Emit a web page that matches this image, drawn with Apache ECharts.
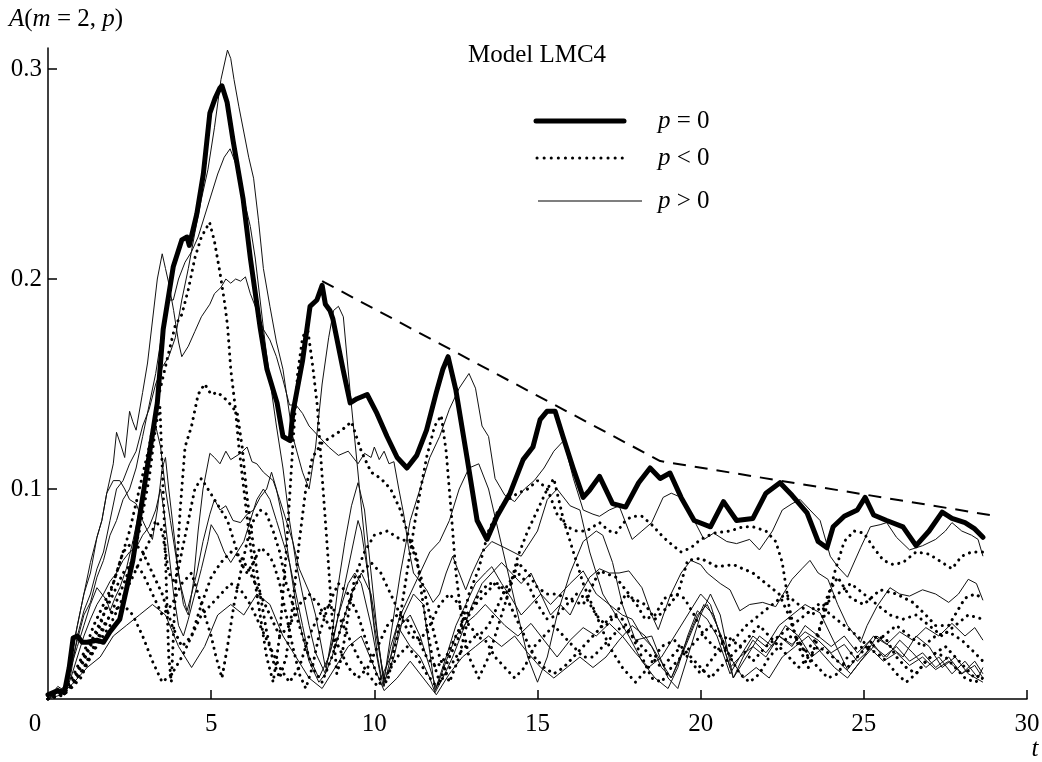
<!DOCTYPE html>
<html>
<head>
<meta charset="utf-8">
<script src="https://cdn.jsdelivr.net/npm/echarts@6/dist/echarts.min.js"></script>
<style>html,body{margin:0;padding:0;background:#fff}#c{width:1042px;height:762px}</style>
</head>
<body>
<div id="c"></div>
<script>
// ---- data (t, A) ----
const xTicks = [5, 10, 15, 20, 25, 30];
const xLabels = [0, 5, 10, 15, 20, 25, 30];
const yTicks = [0.1, 0.2, 0.3];

const envelope = [[8.4,0.199],[18.76,0.1133],[28.87,0.0876]];

const thickP0 = [[0,0.002],[0.3,0.004],[0.5,0.003],[0.65,0.015],[0.77,0.029],[0.9,0.03],[1.05,0.027],[1.2,0.027],[1.5,0.028],[1.7,0.027],[1.9,0.032],[2.2,0.038],[2.6,0.066],[3.03,0.109],[3.35,0.141],[3.53,0.176],[3.84,0.206],[4.1,0.2186],[4.26,0.22],[4.33,0.216],[4.56,0.231],[4.76,0.25],[4.96,0.279],[5.12,0.286],[5.27,0.291],[5.33,0.292],[5.49,0.284],[5.67,0.266],[5.98,0.238],[6.2,0.21],[6.5,0.177],[6.71,0.157],[7.02,0.141],[7.2,0.125],[7.42,0.123],[7.5,0.136],[7.8,0.161],[8.03,0.187],[8.24,0.19],[8.4,0.197],[8.5,0.188],[8.64,0.185],[8.73,0.181],[9.04,0.157],[9.26,0.141],[9.47,0.143],[9.78,0.145],[10.08,0.136],[10.39,0.125],[10.7,0.115],[11.0,0.11],[11.3,0.116],[11.6,0.128],[11.9,0.146],[12.1,0.157],[12.26,0.163],[12.5,0.147],[12.85,0.114],[13.15,0.085],[13.45,0.076],[13.76,0.087],[14.16,0.098],[14.56,0.114],[14.86,0.12],[15.08,0.133],[15.29,0.137],[15.54,0.137],[15.78,0.125],[16.09,0.11],[16.4,0.096],[16.6,0.0995],[16.9,0.106],[17.3,0.093],[17.7,0.0914],[18.1,0.103],[18.45,0.11],[18.76,0.105],[19.06,0.1076],[19.4,0.096],[19.8,0.085],[20.3,0.082],[20.7,0.094],[21.1,0.085],[21.6,0.086],[22.0,0.098],[22.43,0.103],[22.8,0.097],[23.26,0.0886],[23.6,0.075],[23.87,0.072],[24.06,0.082],[24.4,0.087],[24.8,0.09],[25.04,0.096],[25.3,0.0876],[25.7,0.085],[26.2,0.082],[26.6,0.073],[27.0,0.08],[27.4,0.089],[27.7,0.086],[28.1,0.084],[28.4,0.081],[28.65,0.077]];

const thin1 = [[0,0],[0.3,0.004],[0.5,0.002],[0.7,0.012],[0.9,0.03],[1.1,0.042],[1.3,0.05],[1.5,0.062],[1.7,0.07],[1.9,0.085],[2.1,0.1],[2.3,0.104],[2.5,0.112],[2.7,0.118],[2.9,0.13],[3.1,0.138],[3.3,0.15],[3.5,0.158],[3.7,0.163],[3.9,0.172],[4.1,0.19],[4.3,0.205],[4.5,0.222],[4.7,0.238],[4.9,0.252],[5.1,0.272],[5.3,0.295],[5.5,0.309],[5.6,0.305],[5.7,0.295],[5.85,0.282],[6.0,0.27],[6.15,0.258],[6.3,0.248],[6.45,0.228],[6.6,0.205],[6.8,0.187],[7.0,0.17],[7.2,0.157],[7.5,0.125],[7.8,0.108],[8.0,0.1],[8.2,0.12],[8.4,0.15],[8.6,0.172],[8.75,0.185],[8.9,0.187],[9.05,0.182],[9.26,0.146],[9.56,0.098],[9.87,0.05],[10.1,0.02],[10.27,0.006],[10.5,0.03],[10.8,0.06],[11.1,0.085],[11.4,0.1],[11.7,0.115],[12.0,0.125],[12.3,0.138],[12.6,0.148],[12.9,0.155],[13.1,0.148],[13.3,0.13],[13.5,0.125],[13.7,0.105],[14.0,0.097],[14.3,0.094],[14.6,0.1],[14.9,0.104],[15.2,0.11],[15.5,0.118],[15.8,0.123],[16.1,0.105],[16.4,0.09],[16.7,0.088],[16.9,0.087],[17.2,0.09],[17.5,0.092],[17.9,0.076],[18.2,0.08],[18.5,0.084],[18.85,0.096],[19.1,0.098],[19.4,0.096],[19.8,0.085],[20.1,0.076],[20.4,0.079],[20.8,0.075],[21.1,0.074],[21.5,0.076],[21.8,0.071],[22.2,0.08],[22.5,0.09],[22.8,0.093],[23.05,0.095],[23.35,0.09],[23.66,0.085],[23.97,0.068],[24.2,0.063],[24.5,0.058],[24.9,0.072],[25.2,0.082],[25.5,0.083],[25.7,0.084],[26.0,0.077],[26.4,0.071],[26.8,0.073],[27.2,0.076],[27.5,0.08],[27.7,0.084],[28.0,0.08],[28.3,0.078],[28.5,0.076],[28.65,0.068]];

const thin2 = [[0,0],[0.3,0.003],[0.5,0.006],[0.7,0.016],[0.9,0.028],[1.1,0.04],[1.3,0.046],[1.5,0.058],[1.7,0.066],[1.9,0.078],[2.1,0.085],[2.3,0.095],[2.5,0.1],[2.7,0.11],[2.9,0.125],[3.1,0.14],[3.3,0.155],[3.5,0.175],[3.7,0.19],[3.84,0.19],[4.0,0.2],[4.2,0.208],[4.4,0.213],[4.6,0.22],[4.8,0.23],[5.0,0.24],[5.2,0.25],[5.4,0.258],[5.58,0.262],[5.75,0.255],[5.9,0.245],[6.05,0.235],[6.2,0.225],[6.35,0.21],[6.5,0.19],[6.65,0.17],[6.8,0.152],[7.0,0.13],[7.2,0.11],[7.4,0.085],[7.6,0.065],[7.8,0.05],[8.0,0.035],[8.2,0.022],[8.5,0.012],[8.7,0.03],[8.9,0.055],[9.1,0.075],[9.3,0.092],[9.5,0.103],[9.7,0.09],[9.9,0.06],[10.1,0.03],[10.3,0.006],[10.5,0.02],[10.7,0.035],[10.9,0.03],[11.1,0.025],[11.4,0.02],[11.7,0.01],[11.86,0.003],[12.1,0.01],[12.4,0.02],[12.7,0.032],[13.0,0.045],[13.3,0.055],[13.6,0.06],[13.9,0.065],[14.2,0.06],[14.5,0.055],[14.8,0.06],[15.1,0.05],[15.4,0.04],[15.7,0.045],[16.0,0.04],[16.3,0.05],[16.6,0.058],[16.9,0.062],[17.2,0.06],[17.5,0.06],[17.8,0.061],[18.2,0.053],[18.5,0.04],[18.7,0.033],[19.06,0.049],[19.4,0.06],[19.7,0.066],[20.0,0.064],[20.2,0.06],[20.6,0.055],[20.9,0.052],[21.2,0.042],[21.5,0.045],[21.9,0.046],[22.3,0.044],[22.8,0.057],[23.1,0.062],[23.35,0.066],[23.6,0.06],[23.9,0.057],[24.2,0.045],[24.5,0.035],[24.9,0.027],[25.1,0.035],[25.4,0.044],[25.8,0.053],[26.1,0.05],[26.4,0.049],[26.8,0.052],[27.2,0.05],[27.6,0.046],[27.9,0.05],[28.2,0.057],[28.45,0.055],[28.65,0.047]];

const thin3 = [[0,0],[0.3,0.005],[0.5,0.003],[0.7,0.018],[0.9,0.035],[1.1,0.05],[1.3,0.065],[1.5,0.077],[1.65,0.085],[1.8,0.098],[2.0,0.112],[2.1,0.127],[2.25,0.12],[2.35,0.115],[2.5,0.137],[2.6,0.132],[2.7,0.128],[2.9,0.146],[3.05,0.16],[3.2,0.18],[3.35,0.2],[3.5,0.212],[3.6,0.205],[3.7,0.198],[3.85,0.185],[4.0,0.17],[4.1,0.163],[4.3,0.168],[4.5,0.175],[4.7,0.182],[4.96,0.188],[5.1,0.193],[5.3,0.196],[5.45,0.2],[5.6,0.198],[5.75,0.2],[5.9,0.199],[6.05,0.201],[6.2,0.193],[6.4,0.185],[6.6,0.176],[6.8,0.171],[7.0,0.163],[7.2,0.152],[7.4,0.14],[7.6,0.14],[7.8,0.136],[8.0,0.13],[8.3,0.125],[8.6,0.12],[8.9,0.116],[9.2,0.118],[9.5,0.112],[9.7,0.117],[9.9,0.115],[10.0,0.12],[10.15,0.114],[10.3,0.118],[10.45,0.112],[10.6,0.113],[10.75,0.1],[10.9,0.088],[11.05,0.072],[11.2,0.06],[11.4,0.056],[11.6,0.052],[11.8,0.046],[12.0,0.05],[12.2,0.06],[12.4,0.068],[12.6,0.06],[12.8,0.052],[13.0,0.06],[13.3,0.07],[13.6,0.075],[14.0,0.072],[14.5,0.068],[15.0,0.08],[15.3,0.095],[15.6,0.1],[16.0,0.092],[16.3,0.09],[16.6,0.07],[17.0,0.05],[17.4,0.04],[17.8,0.03],[18.2,0.018],[18.6,0.01],[19.0,0.005],[19.3,0.015],[19.6,0.03],[19.9,0.042],[20.2,0.038],[20.5,0.03],[20.9,0.012],[21.2,0.02],[21.6,0.03],[22.0,0.025],[22.4,0.035],[22.8,0.04],[23.2,0.045],[23.66,0.041],[24.0,0.03],[24.5,0.014],[24.9,0.022],[25.3,0.03],[25.7,0.026],[26.1,0.032],[26.5,0.028],[26.9,0.034],[27.3,0.03],[27.7,0.036],[28.1,0.03],[28.4,0.034],[28.65,0.028]];

const thin4 = [[0,0],[0.3,0.006],[0.5,0.004],[0.7,0.015],[0.9,0.025],[1.1,0.035],[1.3,0.045],[1.5,0.053],[1.65,0.05],[1.8,0.047],[1.9,0.042],[2.05,0.048],[2.2,0.053],[2.4,0.062],[2.6,0.075],[2.8,0.09],[3.0,0.105],[3.15,0.118],[3.3,0.13],[3.45,0.12],[3.6,0.1],[3.75,0.085],[3.9,0.07],[4.05,0.055],[4.26,0.042],[4.4,0.05],[4.56,0.06],[4.75,0.075],[4.96,0.088],[5.1,0.095],[5.27,0.09],[5.45,0.092],[5.67,0.085],[5.9,0.084],[6.1,0.088],[6.3,0.09],[6.5,0.096],[6.7,0.1],[6.85,0.108],[7.0,0.1],[7.2,0.085],[7.4,0.065],[7.6,0.045],[7.8,0.03],[8.0,0.018],[8.3,0.008],[8.5,0.012],[8.7,0.02],[9.0,0.035],[9.3,0.05],[9.6,0.06],[9.9,0.05],[10.1,0.03],[10.3,0.008],[10.6,0.02],[10.9,0.04],[11.2,0.05],[11.5,0.045],[11.86,0.004],[12.2,0.02],[12.5,0.035],[12.8,0.045],[13.1,0.055],[13.4,0.06],[13.6,0.063],[13.9,0.055],[14.2,0.048],[14.5,0.04],[14.8,0.045],[15.1,0.05],[15.4,0.045],[15.7,0.05],[16.0,0.055],[16.4,0.061],[16.8,0.05],[17.2,0.045],[17.6,0.04],[17.9,0.038],[18.2,0.03],[18.5,0.025],[18.8,0.015],[19.1,0.01],[19.4,0.02],[19.8,0.035],[20.1,0.045],[20.4,0.04],[20.7,0.025],[21.0,0.01],[21.3,0.02],[21.6,0.028],[22.0,0.022],[22.4,0.03],[22.8,0.026],[23.2,0.032],[23.6,0.028],[24.0,0.022],[24.4,0.026],[24.8,0.018],[25.2,0.024],[25.6,0.018],[26.0,0.022],[26.4,0.016],[26.8,0.02],[27.2,0.014],[27.6,0.018],[28.0,0.012],[28.4,0.016],[28.65,0.01]];

const thin5 = [[0,0],[0.3,0.003],[0.5,0.006],[0.7,0.02],[0.9,0.035],[1.1,0.05],[1.3,0.06],[1.5,0.077],[1.65,0.085],[1.8,0.098],[2.0,0.104],[2.2,0.104],[2.35,0.1],[2.5,0.095],[2.7,0.093],[2.9,0.085],[3.05,0.08],[3.2,0.076],[3.35,0.09],[3.5,0.11],[3.6,0.115],[3.7,0.1],[3.85,0.08],[4.0,0.06],[4.15,0.045],[4.3,0.04],[4.45,0.055],[4.6,0.08],[4.75,0.1],[4.96,0.117],[5.1,0.115],[5.27,0.112],[5.45,0.118],[5.6,0.114],[5.9,0.117],[6.1,0.12],[6.25,0.113],[6.4,0.112],[6.6,0.108],[6.9,0.104],[7.1,0.095],[7.3,0.085],[7.5,0.075],[7.7,0.062],[8.03,0.05],[8.2,0.04],[8.5,0.015],[8.7,0.025],[8.9,0.04],[9.1,0.055],[9.3,0.07],[9.5,0.085],[9.6,0.08],[9.8,0.06],[10.0,0.035],[10.3,0.01],[10.5,0.025],[10.8,0.04],[11.1,0.05],[11.4,0.06],[11.7,0.07],[12.0,0.075],[12.3,0.085],[12.6,0.1],[12.9,0.11],[13.2,0.112],[13.5,0.1],[13.8,0.08],[14.1,0.06],[14.4,0.04],[14.7,0.02],[15.0,0.008],[15.3,0.02],[15.6,0.04],[16.0,0.06],[16.4,0.075],[16.8,0.08],[17.0,0.078],[17.3,0.065],[17.6,0.045],[18.0,0.028],[18.5,0.03],[19.0,0.01],[19.3,0.005],[19.6,0.02],[20.0,0.04],[20.3,0.05],[20.6,0.04],[21.0,0.01],[21.4,0.02],[21.8,0.03],[22.2,0.025],[22.6,0.035],[23.0,0.03],[23.4,0.02],[23.8,0.025],[24.2,0.018],[24.6,0.012],[25.0,0.02],[25.4,0.03],[25.8,0.025],[26.2,0.02],[26.6,0.03],[27.0,0.025],[27.4,0.015],[27.8,0.02],[28.2,0.012],[28.65,0.008]];

const thin6 = [[0,0],[0.3,0.004],[0.5,0.002],[0.7,0.01],[0.9,0.02],[1.1,0.03],[1.3,0.038],[1.5,0.045],[1.7,0.05],[1.9,0.056],[2.1,0.06],[2.3,0.066],[2.5,0.07],[2.7,0.072],[2.9,0.078],[3.1,0.082],[3.3,0.09],[3.45,0.1],[3.55,0.09],[3.7,0.07],[3.85,0.05],[4.0,0.035],[4.15,0.03],[4.3,0.038],[4.5,0.05],[4.7,0.062],[4.9,0.075],[5.0,0.083],[5.2,0.078],[5.4,0.07],[5.6,0.065],[5.8,0.07],[6.0,0.075],[6.2,0.085],[6.4,0.095],[6.6,0.1],[6.8,0.095],[7.0,0.085],[7.2,0.075],[7.4,0.065],[7.6,0.05],[7.8,0.035],[8.0,0.02],[8.3,0.01],[8.6,0.02],[8.9,0.04],[9.2,0.055],[9.4,0.06],[9.6,0.055],[9.9,0.035],[10.2,0.01],[10.5,0.02],[10.8,0.035],[11.1,0.04],[11.4,0.03],[11.7,0.015],[11.9,0.005],[12.2,0.018],[12.5,0.03],[12.8,0.036],[13.1,0.04],[13.4,0.045],[13.7,0.04],[14.0,0.035],[14.4,0.03],[14.8,0.036],[15.2,0.028],[15.6,0.02],[16.0,0.028],[16.4,0.034],[16.8,0.03],[17.2,0.036],[17.6,0.03],[18.0,0.022],[18.4,0.015],[18.8,0.02],[19.2,0.03],[19.6,0.04],[20.0,0.05],[20.3,0.045],[20.6,0.03],[20.9,0.015],[21.2,0.02],[21.6,0.025],[22.0,0.02],[22.4,0.03],[22.8,0.025],[23.2,0.035],[23.6,0.03],[24.0,0.025],[24.4,0.03],[24.8,0.022],[25.2,0.028],[25.6,0.02],[26.0,0.025],[26.4,0.018],[26.8,0.022],[27.2,0.015],[27.6,0.02],[28.0,0.012],[28.4,0.018],[28.65,0.012]];

const thin7 = [[0,0],[0.4,0.002],[0.8,0.008],[1.2,0.015],[1.6,0.02],[2.0,0.03],[2.4,0.035],[2.8,0.04],[3.2,0.045],[3.6,0.04],[4.0,0.025],[4.4,0.015],[4.8,0.025],[5.2,0.04],[5.6,0.045],[6.0,0.04],[6.4,0.05],[6.8,0.045],[7.2,0.03],[7.6,0.02],[8.0,0.01],[8.4,0.005],[8.8,0.015],[9.2,0.025],[9.6,0.03],[10.0,0.015],[10.3,0.004],[10.7,0.01],[11.1,0.018],[11.5,0.01],[11.9,0.002],[12.3,0.012],[12.7,0.02],[13.1,0.025],[13.5,0.03],[13.9,0.025],[14.3,0.03],[14.7,0.022],[15.1,0.015],[15.5,0.01],[15.9,0.015],[16.3,0.02],[16.7,0.015],[17.1,0.02],[17.5,0.028],[17.9,0.035],[18.3,0.03],[18.7,0.02],[19.1,0.01],[19.5,0.025],[19.9,0.04],[20.2,0.045],[20.5,0.035],[20.9,0.02],[21.3,0.01],[21.7,0.015],[22.1,0.01],[22.5,0.02],[22.9,0.025],[23.3,0.03],[23.7,0.022],[24.1,0.015],[24.5,0.01],[24.9,0.018],[25.3,0.025],[25.7,0.02],[26.1,0.028],[26.5,0.022],[26.9,0.015],[27.3,0.02],[27.7,0.012],[28.1,0.018],[28.5,0.01],[28.65,0.015]];

const dot1 = [[0,0],[0.4,0.002],[0.7,0.006],[1.0,0.015],[1.3,0.025],[1.6,0.035],[1.9,0.05],[2.2,0.065],[2.5,0.08],[2.8,0.1],[3.1,0.12],[3.4,0.145],[3.7,0.165],[3.9,0.178],[4.1,0.183],[4.3,0.195],[4.5,0.21],[4.7,0.22],[4.95,0.227],[5.1,0.218],[5.27,0.203],[5.4,0.19],[5.5,0.178],[5.6,0.157],[5.73,0.14],[5.85,0.12],[6.0,0.1],[6.15,0.08],[6.3,0.06],[6.5,0.04],[6.7,0.02],[6.9,0.008],[7.1,0.03],[7.3,0.07],[7.5,0.12],[7.65,0.155],[7.8,0.172],[7.95,0.177],[8.1,0.16],[8.25,0.14],[8.4,0.106],[8.55,0.074],[8.7,0.04],[8.85,0.012],[9.0,0.02],[9.2,0.04],[9.4,0.058],[9.7,0.07],[10.0,0.078],[10.4,0.08],[10.8,0.076],[11.1,0.075],[11.3,0.068],[11.45,0.05],[11.6,0.035],[11.8,0.018],[12.0,0.008],[12.3,0.02],[12.6,0.03],[12.9,0.05],[13.2,0.062],[13.5,0.08],[13.8,0.09],[14.1,0.095],[14.4,0.098],[14.7,0.1],[15.0,0.104],[15.3,0.1],[15.6,0.088],[15.9,0.082],[16.2,0.08],[16.5,0.08],[16.9,0.084],[17.2,0.08],[17.4,0.079],[17.7,0.085],[17.9,0.087],[18.2,0.087],[18.5,0.083],[18.8,0.078],[19.0,0.075],[19.4,0.07],[19.7,0.072],[20.0,0.076],[20.4,0.079],[20.9,0.08],[21.3,0.082],[21.6,0.082],[22.0,0.08],[22.3,0.075],[22.5,0.065],[22.7,0.045],[22.9,0.03],[23.2,0.022],[23.5,0.028],[23.8,0.04],[24.1,0.06],[24.4,0.075],[24.7,0.08],[25.0,0.079],[25.3,0.072],[25.6,0.066],[25.9,0.064],[26.2,0.065],[26.6,0.07],[27.0,0.069],[27.3,0.066],[27.7,0.062],[28.0,0.068],[28.3,0.07],[28.65,0.07]];

const dot2 = [[0,0],[0.4,0.003],[0.7,0.005],[1.0,0.01],[1.3,0.02],[1.6,0.03],[1.9,0.04],[2.2,0.05],[2.5,0.062],[2.8,0.08],[3.1,0.105],[3.3,0.13],[3.43,0.139],[3.55,0.09],[3.7,0.02],[3.78,0.008],[3.9,0.05],[4.05,0.09],[4.2,0.12],[4.4,0.13],[4.6,0.145],[4.8,0.15],[5.0,0.145],[5.2,0.146],[5.5,0.142],[5.8,0.136],[5.95,0.12],[6.1,0.096],[6.3,0.072],[6.5,0.05],[6.7,0.032],[6.9,0.018],[7.1,0.01],[7.3,0.02],[7.5,0.045],[7.7,0.075],[7.9,0.1],[8.1,0.115],[8.4,0.122],[8.7,0.125],[9.0,0.128],[9.3,0.132],[9.6,0.118],[9.9,0.108],[10.2,0.105],[10.5,0.1],[10.8,0.09],[11.1,0.075],[11.4,0.06],[11.7,0.04],[12.0,0.02],[12.3,0.008],[12.6,0.02],[12.9,0.04],[13.2,0.05],[13.5,0.055],[13.8,0.055],[14.1,0.05],[14.4,0.065],[14.7,0.06],[15.0,0.053],[15.3,0.05],[15.6,0.05],[16.0,0.047],[16.4,0.045],[16.9,0.061],[17.4,0.058],[17.9,0.048],[18.3,0.045],[18.6,0.038],[19.0,0.044],[19.3,0.05],[19.6,0.066],[20.0,0.067],[20.5,0.063],[21.0,0.064],[21.6,0.06],[22.0,0.055],[22.4,0.05],[22.7,0.04],[23.0,0.025],[23.3,0.015],[23.6,0.03],[23.9,0.05],[24.2,0.058],[24.6,0.048],[25.0,0.045],[25.5,0.052],[26.0,0.05],[26.5,0.046],[26.9,0.04],[27.2,0.035],[27.6,0.035],[28.1,0.048],[28.4,0.05],[28.65,0.048]];

const dot3 = [[0,0],[0.4,0.002],[0.7,0.006],[1.0,0.012],[1.3,0.02],[1.6,0.028],[1.9,0.035],[2.2,0.045],[2.5,0.055],[2.8,0.065],[3.1,0.075],[3.3,0.085],[3.5,0.08],[3.7,0.06],[3.9,0.055],[4.1,0.07],[4.3,0.085],[4.5,0.1],[4.7,0.105],[4.9,0.1],[5.1,0.095],[5.3,0.09],[5.5,0.085],[5.7,0.075],[5.9,0.065],[6.1,0.06],[6.3,0.065],[6.5,0.072],[6.7,0.07],[6.9,0.065],[7.1,0.055],[7.3,0.04],[7.5,0.025],[7.7,0.012],[7.9,0.005],[8.1,0.015],[8.3,0.03],[8.6,0.045],[8.9,0.055],[9.2,0.05],[9.5,0.04],[9.8,0.025],[10.1,0.01],[10.4,0.008],[10.7,0.03],[11.0,0.06],[11.3,0.09],[11.6,0.115],[11.85,0.13],[12.05,0.135],[12.2,0.118],[12.35,0.09],[12.5,0.06],[12.7,0.035],[12.9,0.02],[13.2,0.01],[13.5,0.02],[13.8,0.035],[14.1,0.05],[14.4,0.068],[14.7,0.08],[15.0,0.09],[15.3,0.1],[15.5,0.105],[15.8,0.085],[16.1,0.07],[16.4,0.055],[16.8,0.04],[17.2,0.025],[17.6,0.015],[18.0,0.008],[18.4,0.015],[18.8,0.025],[19.2,0.028],[19.6,0.02],[20.0,0.012],[20.4,0.02],[20.8,0.03],[21.2,0.025],[21.6,0.018],[22.0,0.025],[22.4,0.03],[22.8,0.035],[23.2,0.04],[23.6,0.045],[24.0,0.04],[24.4,0.035],[24.8,0.03],[25.2,0.024],[25.6,0.03],[26.0,0.035],[26.4,0.03],[26.8,0.025],[27.2,0.03],[27.6,0.032],[28.0,0.028],[28.4,0.022],[28.65,0.018]];

const dot4 = [[0,0],[0.5,0.002],[0.8,0.008],[1.1,0.015],[1.4,0.025],[1.7,0.035],[2.0,0.042],[2.3,0.045],[2.6,0.04],[2.9,0.03],[3.2,0.018],[3.5,0.008],[3.8,0.012],[4.1,0.02],[4.4,0.03],[4.7,0.04],[5.0,0.045],[5.3,0.05],[5.6,0.055],[5.9,0.052],[6.2,0.045],[6.5,0.035],[6.8,0.025],[7.1,0.015],[7.4,0.008],[7.7,0.015],[8.0,0.03],[8.3,0.04],[8.6,0.045],[8.9,0.04],[9.2,0.03],[9.5,0.02],[9.8,0.012],[10.1,0.006],[10.4,0.012],[10.7,0.02],[11.0,0.025],[11.3,0.02],[11.6,0.012],[11.9,0.006],[12.2,0.012],[12.5,0.02],[12.8,0.025],[13.1,0.03],[13.4,0.028],[13.7,0.02],[14.0,0.015],[14.3,0.01],[14.6,0.015],[14.9,0.025],[15.2,0.03],[15.5,0.035],[15.8,0.03],[16.1,0.025],[16.4,0.02],[16.7,0.02],[17.0,0.025],[17.3,0.03],[17.6,0.035],[17.9,0.03],[18.2,0.02],[18.5,0.01],[18.8,0.008],[19.1,0.015],[19.4,0.02],[19.7,0.025],[20.0,0.03],[20.3,0.035],[20.6,0.03],[20.9,0.02],[21.2,0.012],[21.5,0.008],[21.8,0.012],[22.1,0.02],[22.4,0.025],[22.7,0.03],[23.0,0.028],[23.3,0.02],[23.6,0.015],[23.9,0.01],[24.2,0.012],[24.5,0.02],[24.8,0.025],[25.1,0.024],[25.4,0.022],[25.7,0.018],[26.0,0.012],[26.3,0.008],[26.6,0.012],[26.9,0.018],[27.2,0.022],[27.5,0.02],[27.8,0.015],[28.1,0.01],[28.4,0.008],[28.65,0.01]];

const dot5 = [[0,0],[0.5,0.003],[0.8,0.01],[1.1,0.02],[1.4,0.03],[1.7,0.04],[2.0,0.05],[2.3,0.06],[2.6,0.065],[2.9,0.06],[3.2,0.05],[3.5,0.04],[3.8,0.045],[4.1,0.055],[4.4,0.06],[4.7,0.045],[5.0,0.03],[5.15,0.02],[5.33,0.01],[5.5,0.025],[5.7,0.045],[5.9,0.06],[6.1,0.075],[6.3,0.085],[6.5,0.09],[6.7,0.088],[6.9,0.08],[7.1,0.07],[7.3,0.055],[7.5,0.045],[7.7,0.035],[7.9,0.025],[8.1,0.015],[8.4,0.008],[8.7,0.02],[9.0,0.035],[9.3,0.05],[9.6,0.06],[9.9,0.065],[10.2,0.06],[10.5,0.05],[10.8,0.04],[11.1,0.03],[11.4,0.028],[11.7,0.035],[12.0,0.045],[12.3,0.05],[12.6,0.045],[12.9,0.035],[13.2,0.03],[13.5,0.035],[13.8,0.045],[14.1,0.055],[14.4,0.06],[14.7,0.055],[15.0,0.045],[15.3,0.038],[15.6,0.04],[15.9,0.045],[16.2,0.05],[16.5,0.048],[16.8,0.04],[17.1,0.035],[17.4,0.04],[17.7,0.05],[18.0,0.046],[18.3,0.038],[18.6,0.04],[18.9,0.048],[19.2,0.05],[19.5,0.048],[19.8,0.04],[20.1,0.03],[20.4,0.025],[20.7,0.022],[21.0,0.028],[21.4,0.035],[21.8,0.04],[22.2,0.045],[22.6,0.05],[23.0,0.045],[23.4,0.04],[23.8,0.045],[24.2,0.05],[24.6,0.055],[25.0,0.05],[25.4,0.045],[25.8,0.04],[26.2,0.038],[26.6,0.04],[27.0,0.035],[27.4,0.03],[27.8,0.035],[28.2,0.04],[28.65,0.038]];

const dot6 = [[0,0],[0.5,0.004],[0.8,0.012],[1.1,0.022],[1.4,0.035],[1.7,0.045],[2.0,0.055],[2.3,0.07],[2.6,0.075],[2.9,0.07],[3.2,0.06],[3.5,0.05],[3.8,0.035],[4.1,0.025],[4.4,0.03],[4.7,0.045],[5.0,0.058],[5.3,0.065],[5.6,0.07],[5.9,0.068],[6.2,0.06],[6.5,0.05],[6.8,0.04],[7.1,0.03],[7.4,0.035],[7.7,0.045],[8.0,0.05],[8.3,0.045],[8.6,0.035],[8.9,0.025],[9.2,0.015],[9.5,0.01],[9.8,0.015],[10.1,0.025],[10.4,0.035],[10.7,0.04],[11.0,0.038],[11.3,0.03],[11.6,0.02],[11.9,0.015],[12.2,0.02],[12.5,0.03],[12.8,0.04],[13.1,0.045],[13.4,0.05],[13.7,0.055],[14.0,0.05],[14.3,0.04],[14.6,0.03],[14.9,0.02],[15.2,0.015],[15.5,0.012],[15.8,0.015],[16.1,0.02],[16.4,0.025],[16.7,0.03],[17.0,0.035],[17.3,0.04],[17.6,0.038],[17.9,0.03],[18.2,0.025],[18.5,0.02],[18.8,0.015],[19.1,0.02],[19.4,0.025],[19.7,0.02],[20.0,0.015],[20.3,0.01],[20.6,0.015],[20.9,0.02],[21.2,0.025],[21.5,0.03],[21.8,0.035],[22.1,0.03],[22.4,0.025],[22.7,0.02],[23.0,0.015],[23.3,0.02],[23.6,0.025],[23.9,0.022],[24.2,0.018],[24.5,0.015],[24.8,0.02],[25.1,0.025],[25.4,0.03],[25.7,0.028],[26.0,0.02],[26.3,0.015],[26.6,0.012],[26.9,0.018],[27.2,0.022],[27.5,0.025],[27.8,0.02],[28.1,0.015],[28.4,0.01],[28.65,0.012]];

const thinSeries = [thin1, thin2, thin3, thin4, thin5, thin6, thin7];
const dotSeries = [dot1, dot2, dot3, dot4, dot5, dot6];

// ---- chart ----
const FONT = 'Liberation Serif';
const chart = echarts.init(document.getElementById('c'), null, {renderer: 'canvas'});

const series = [];
thinSeries.forEach(d => series.push({
  name: 'p > 0', type: 'line', data: d, symbol: 'none', silent: true, z: 2,
  lineStyle: {color: '#111', width: 1, join: 'round'}
}));
dotSeries.forEach(d => series.push({
  name: 'p < 0', type: 'line', data: d, symbol: 'none', silent: true, z: 3,
  lineStyle: {color: '#000', width: 3, type: [0.1, 6.5], cap: 'round'}
}));
series.push({
  name: 'p = 0', type: 'line', data: thickP0, symbol: 'none', silent: true, z: 5,
  lineStyle: {color: '#000', width: 5, join: 'round', cap: 'round'}
});
series.push({
  name: 'envelope', type: 'line', data: envelope, symbol: 'none', silent: true, z: 4,
  lineStyle: {color: '#000', width: 2, type: [13, 9]}
});

const legendRow = (y, txt, style, x1, x2) => [
  {type: 'line', shape: {x1: x1, y1: y, x2: x2, y2: y}, style: style, silent: true},
  {type: 'text', x: 658, y: y, silent: true, style: {text: txt, fill: '#000', fontFamily: FONT, fontSize: 25,
    verticalAlign: 'middle', rich: {i: {fontStyle: 'italic', fontFamily: FONT, fontSize: 25}}}}
];

chart.setOption({
  animation: false,
  backgroundColor: '#fff',
  grid: {left: 48, right: 15, top: 48, bottom: 63, containLabel: false, outerBoundsMode: 'none'},
  xAxis: {
    type: 'value', min: 0, max: 30, interval: 5,
    axisLine: {lineStyle: {color: '#000', width: 1.5}},
    axisTick: {inside: true, length: 9, lineStyle: {color: '#000', width: 1.5}, customValues: xTicks},
    axisLabel: {color: '#000', fontFamily: FONT, fontSize: 25, margin: 13, customValues: xLabels,
      formatter: v => v === 0 ? '{z|0}' : String(v),
      rich: {z: {fontFamily: FONT, fontSize: 25, color: '#000', padding: [0, 26, 0, 0]}}},
    splitLine: {show: false}
  },
  yAxis: {
    type: 'value', min: 0, max: 0.31,
    axisLine: {show: true, lineStyle: {color: '#000', width: 1.5}},
    axisTick: {show: true, inside: true, length: 9, lineStyle: {color: '#000', width: 1.5}, customValues: yTicks},
    axisLabel: {color: '#000', fontFamily: FONT, fontSize: 25, margin: 6, customValues: yTicks,
      formatter: v => v.toFixed(1)},
    splitLine: {show: false}
  },
  graphic: [
    {type: 'text', left: 9, top: 7, silent: true, style: {text: '{i|A}({i|m} = 2, {i|p})', fill: '#000', fontFamily: FONT, fontSize: 25,
      rich: {i: {fontStyle: 'italic', fontFamily: FONT, fontSize: 25}}}},
    {type: 'text', x: 537, y: 55, silent: true, style: {text: 'Model LMC4', fill: '#000', fontFamily: FONT, fontSize: 25, align: 'center', verticalAlign: 'middle'}},
    {type: 'text', x: 1035, y: 749, silent: true, style: {text: 't', fill: '#000', fontFamily: FONT, fontSize: 25, fontStyle: 'italic', align: 'center', verticalAlign: 'middle'}},
    ...legendRow(121, '{i|p} = 0', {stroke: '#000', lineWidth: 5, lineCap: 'round'}, 536, 624),
    ...legendRow(158, '{i|p} < 0', {stroke: '#000', lineWidth: 3, lineCap: 'round', lineDash: [0.1, 7]}, 537, 628),
    ...legendRow(201, '{i|p} > 0', {stroke: '#000', lineWidth: 1.2}, 538, 642)
  ],
  series: series
});
</script>
</body>
</html>
